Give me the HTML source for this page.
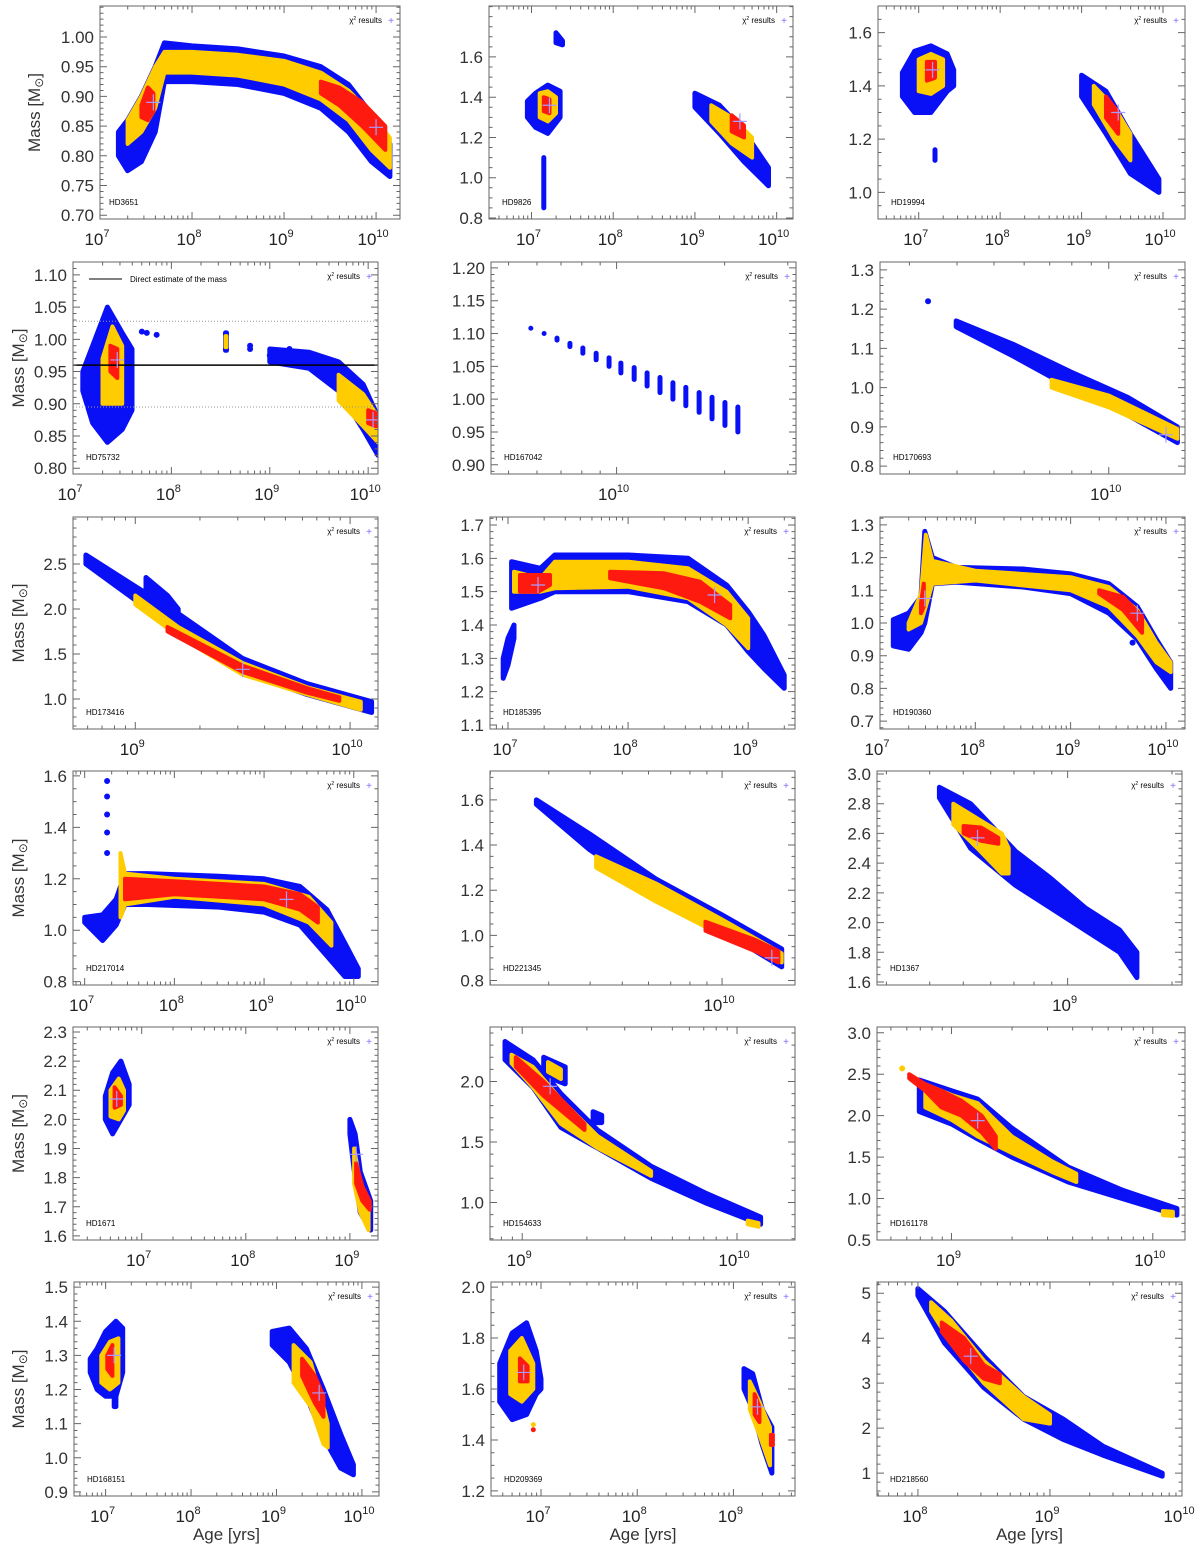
<!DOCTYPE html>
<html><head><meta charset="utf-8"><title>Mass vs Age</title>
<style>
html,body{margin:0;padding:0;background:#fff;}
svg{display:block;font-family:"Liberation Sans",sans-serif;}
</style></head>
<body>
<svg id="fig" width="1200" height="1550" viewBox="0 0 1200 1550" xmlns="http://www.w3.org/2000/svg"></svg>
<script>
// ===== DATA: tracks are [logAge, massLow, massHigh]; dots [logAge, mass]; crosses [logAge, mass] =====
const hd3651_blue=[[[7.2,0.80,0.84],[7.3,0.775,0.86],[7.45,0.79,0.90],[7.6,0.84,0.95],[7.7,0.925,0.99],[8.0,0.925,0.985],[8.5,0.92,0.98],[9.0,0.905,0.968],[9.4,0.88,0.95],[9.7,0.84,0.92],[9.95,0.79,0.87],[10.15,0.765,0.82]]];
const hd3651_yellow=[[[7.3,0.82,0.86],[7.45,0.84,0.90],[7.6,0.88,0.95],[7.7,0.94,0.975],[8.0,0.94,0.975],[8.5,0.935,0.97],[9.0,0.92,0.96],[9.4,0.895,0.94],[9.7,0.86,0.91],[9.95,0.81,0.87],[10.15,0.78,0.83]]];
const hd3651_red=[[[7.45,0.865,0.885],[7.52,0.86,0.915],[7.58,0.875,0.905]],[[9.4,0.905,0.925],[9.6,0.885,0.915],[9.85,0.85,0.89],[10.1,0.81,0.85]]];
const hd3651_cross=[[7.58,0.89],[10.0,0.848]];

const hd9826_blue=[[[6.95,1.3,1.38],[7.05,1.25,1.42],[7.2,1.22,1.46],[7.35,1.3,1.43]],[[7.15,0.85,0.85],[7.15,1.1,1.1]],[[7.3,1.67,1.72],[7.38,1.66,1.68]],[[9.0,1.35,1.42],[9.3,1.22,1.36],[9.6,1.08,1.23],[9.9,0.96,1.05]]];
const hd9826_yellow=[[[7.1,1.3,1.42],[7.2,1.28,1.43],[7.3,1.32,1.40]],[[9.2,1.28,1.36],[9.45,1.17,1.30],[9.7,1.10,1.20]]];
const hd9826_red=[[[7.15,1.33,1.4],[7.22,1.32,1.39]],[[9.45,1.23,1.31],[9.6,1.2,1.26]]];
const hd9826_cross=[[7.22,1.36],[9.55,1.28]];

const hd19994_blue=[[[6.8,1.36,1.45],[6.95,1.30,1.53],[7.15,1.30,1.55],[7.35,1.38,1.52],[7.43,1.40,1.46]],[[7.2,1.12,1.16],[7.2,1.14,1.14]],[[9.0,1.36,1.44],[9.3,1.22,1.38],[9.6,1.07,1.22],[9.95,1.0,1.05]]];
const hd19994_yellow=[[[7.0,1.38,1.50],[7.15,1.37,1.52],[7.3,1.40,1.50]],[[9.15,1.33,1.4],[9.4,1.2,1.32],[9.6,1.12,1.22]]];
const hd19994_red=[[[7.1,1.42,1.49],[7.2,1.43,1.49]],[[9.3,1.28,1.36],[9.45,1.22,1.30]]];
const hd19994_cross=[[7.17,1.46],[9.45,1.3]];

const hd75732_blue=[[[7.1,0.92,0.95],[7.2,0.87,0.99],[7.35,0.84,1.05],[7.5,0.86,1.01],[7.6,0.89,0.985]],[[8.55,0.983,1.01],[8.56,0.983,1.01]],[[9.0,0.965,0.985],[9.4,0.955,0.98],[9.7,0.92,0.965],[9.95,0.86,0.93],[10.1,0.82,0.88]]];
const hd75732_yellow=[[[7.3,0.9,0.97],[7.4,0.9,1.02],[7.5,0.9,0.99]],[[8.55,0.988,1.005],[8.56,0.988,1.005]],[[9.7,0.905,0.945],[9.95,0.865,0.915],[10.1,0.84,0.88]]];
const hd75732_red=[[[7.38,0.95,0.99],[7.45,0.94,0.985]],[[10.0,0.87,0.89],[10.08,0.865,0.885]]];
const hd75732_dots=[[7.7,1.012],[7.75,1.01],[7.85,1.007],[8.8,0.99],[8.8,0.985],[9.0,0.975],[9.2,0.985]];
const hd75732_cross=[[7.45,0.968],[10.05,0.875]];
const hd75732_direct=[0.96,1.028,0.895];

const hd167042_ages=[9.761,9.798,9.834,9.870,9.906,9.943,9.979,10.012,10.049,10.085,10.121,10.157,10.193,10.230,10.266,10.302,10.338];
const hd167042_top=[1.108,1.100,1.093,1.085,1.078,1.070,1.063,1.055,1.048,1.040,1.033,1.025,1.018,1.010,1.003,0.995,0.988];
const hd167042_bottom=[1.108,1.100,1.090,1.080,1.070,1.060,1.050,1.040,1.030,1.020,1.010,1.000,0.990,0.980,0.970,0.960,0.950];

const hd170693_blue=[[[9.6,1.155,1.17],[9.75,1.08,1.11],[9.9,1.0,1.04],[10.05,0.93,0.975],[10.18,0.86,0.9]]];
const hd170693_yellow=[[[9.85,1.0,1.02],[10.0,0.95,0.98],[10.18,0.87,0.895]]];
const hd170693_red=[];
const hd170693_dots=[[9.526,1.22]];
const hd170693_cross=[[10.15,0.88]];

const hd173416_blue=[[[8.77,2.5,2.6],[9.0,2.1,2.25],[9.2,1.7,1.95],[9.5,1.3,1.45],[9.8,1.05,1.17],[10.1,0.85,0.97]],[[9.05,2.1,2.35],[9.15,1.95,2.15],[9.2,1.9,2.0]]];
const hd173416_yellow=[[[9.0,2.05,2.15],[9.2,1.7,1.8],[9.5,1.27,1.40],[9.8,1.05,1.13],[10.05,0.88,0.97]]];
const hd173416_red=[[[9.15,1.75,1.8],[9.5,1.3,1.37],[9.8,1.07,1.12],[9.95,0.98,1.02]]];
const hd173416_cross=[[9.5,1.33]];

const hd185395_blue=[[[6.96,1.24,1.3],[7.0,1.28,1.36],[7.05,1.36,1.4]],[[7.03,1.45,1.59],[7.27,1.48,1.57],[7.39,1.5,1.61],[8.0,1.5,1.61],[8.5,1.47,1.6],[8.82,1.40,1.52],[9.0,1.32,1.44],[9.13,1.27,1.37],[9.3,1.21,1.25]]];
const hd185395_yellow=[[[7.05,1.5,1.56],[7.27,1.5,1.54],[7.39,1.51,1.59],[8.0,1.515,1.59],[8.5,1.48,1.57],[8.82,1.40,1.5],[9.0,1.33,1.42]]];
const hd185395_red=[[[7.1,1.5,1.55],[7.25,1.5,1.55],[7.35,1.52,1.55]],[[7.85,1.54,1.56],[8.3,1.51,1.555],[8.6,1.47,1.53],[8.85,1.42,1.46]]];
const hd185395_cross=[[7.25,1.52],[8.72,1.49]];

const hd190360_blue=[[[7.14,0.93,1.01],[7.3,0.92,1.03],[7.43,0.97,1.08],[7.47,1.0,1.28],[7.55,1.12,1.2],[7.8,1.125,1.17],[8.5,1.11,1.165],[9.0,1.09,1.15],[9.4,1.03,1.12],[9.7,0.95,1.05],[9.9,0.86,0.95],[10.05,0.8,0.88]]];
const hd190360_yellow=[[[7.3,0.98,1.0],[7.43,1.0,1.09],[7.48,1.05,1.27],[7.55,1.12,1.19],[8.0,1.13,1.16],[9.0,1.1,1.14],[9.4,1.05,1.11],[9.7,0.96,1.04],[9.9,0.88,0.94],[10.05,0.85,0.88]]];
const hd190360_red=[[[7.43,1.03,1.06],[7.46,1.05,1.12]],[[9.3,1.09,1.1],[9.55,1.04,1.08],[9.75,0.97,1.02]]];
const hd190360_dots=[[9.65,0.94]];
const hd190360_cross=[[7.47,1.075],[9.7,1.03]];

const hd217014_blue=[[[7.0,1.03,1.05],[7.2,0.96,1.06],[7.35,1.02,1.12],[7.45,1.1,1.22],[7.7,1.1,1.22],[8.5,1.09,1.21],[9.0,1.07,1.2],[9.4,1.02,1.17],[9.7,0.9,1.08],[9.9,0.82,0.95],[10.05,0.82,0.85]]];
const hd217014_yellow=[[[7.4,1.05,1.3],[7.45,1.1,1.22],[8.0,1.13,1.2],[9.0,1.1,1.18],[9.5,1.03,1.13],[9.75,0.94,1.03]]];
const hd217014_red=[[[7.45,1.12,1.2],[8.0,1.14,1.19],[9.0,1.12,1.17],[9.4,1.08,1.14],[9.6,1.03,1.09]]];
const hd217014_dots=[[7.25,1.3],[7.25,1.38],[7.25,1.45],[7.25,1.52],[7.25,1.58]];
const hd217014_cross=[[9.25,1.12]];

const hd221345_blue=[[[9.44,1.58,1.6],[9.6,1.38,1.45],[9.8,1.18,1.25],[10.0,1.02,1.09],[10.18,0.86,0.94]]];
const hd221345_yellow=[[[9.62,1.3,1.35],[9.8,1.15,1.23],[10.0,1.0,1.07],[10.18,0.88,0.92]]];
const hd221345_red=[[[9.95,1.02,1.06],[10.1,0.93,0.98],[10.17,0.88,0.93]]];
const hd221345_cross=[[10.15,0.9]];

const hd1367_blue=[[[8.63,2.84,2.91],[8.72,2.5,2.8],[8.85,2.25,2.48],[8.95,2.1,2.3],[9.05,1.95,2.1],[9.15,1.8,1.95],[9.2,1.63,1.8]]];
const hd1367_yellow=[[[8.67,2.66,2.8],[8.74,2.5,2.7],[8.81,2.33,2.6],[8.83,2.33,2.5]]];
const hd1367_red=[[[8.7,2.6,2.65],[8.75,2.55,2.64],[8.8,2.53,2.57]]];
const hd1367_cross=[[8.74,2.57]];

const hd1671_blue=[[[6.65,2.0,2.08],[6.72,1.95,2.16],[6.8,2.0,2.2],[6.88,2.05,2.12]],[[9.0,1.95,2.0],[9.05,1.8,1.95],[9.1,1.68,1.82],[9.2,1.62,1.72]]];
const hd1671_yellow=[[[6.7,2.01,2.1],[6.78,2.0,2.14],[6.83,2.03,2.1]],[[9.04,1.78,1.9],[9.1,1.68,1.78],[9.18,1.62,1.7]]];
const hd1671_red=[[[6.74,2.04,2.11],[6.8,2.05,2.08]],[[9.06,1.78,1.85],[9.12,1.72,1.77],[9.19,1.69,1.72]]];
const hd1671_cross=[[6.76,2.07],[9.06,1.88]];

const hd154633_blue=[[[8.92,2.18,2.33],[9.05,1.95,2.18],[9.18,1.62,1.9],[9.35,1.45,1.6],[9.6,1.2,1.3],[9.85,1.0,1.08],[10.11,0.82,0.88]],[[9.1,2.05,2.2],[9.2,1.98,2.12]],[[9.33,1.66,1.75],[9.37,1.66,1.72]]];
const hd154633_yellow=[[[8.95,2.15,2.22],[9.05,1.95,2.12],[9.18,1.65,1.85],[9.35,1.45,1.55],[9.6,1.22,1.26]],[[10.05,0.82,0.85],[10.1,0.8,0.83]],[[9.12,2.08,2.16],[9.18,2.02,2.1]]];
const hd154633_red=[[[8.97,2.12,2.2],[9.1,1.88,2.0],[9.29,1.6,1.65]]];
const hd154633_cross=[[9.13,1.96]];

const hd161178_blue=[[[8.84,2.05,2.43],[9.0,1.9,2.3],[9.13,1.72,2.2],[9.3,1.5,1.85],[9.58,1.2,1.38],[9.85,1.0,1.1],[10.12,0.8,0.88]]];
const hd161178_yellow=[[[8.87,2.1,2.38],[9.0,1.95,2.25],[9.13,1.75,2.15],[9.3,1.55,1.75],[9.5,1.32,1.45],[9.62,1.2,1.3]],[[10.05,0.8,0.85],[10.1,0.79,0.84]]];
const hd161178_red=[[[8.79,2.45,2.5],[8.87,2.3,2.38],[8.95,2.1,2.3],[9.05,2.0,2.18],[9.15,1.8,2.0],[9.22,1.6,1.75]]];
const hd161178_dots=[[8.755,2.57]];
const hd161178_cross=[[9.13,1.94]];

const hd168151_blue=[[[6.82,1.25,1.29],[6.9,1.2,1.32],[7.0,1.18,1.37],[7.12,1.18,1.4],[7.2,1.25,1.38]],[[7.1,1.15,1.2],[7.12,1.15,1.2]],[[8.95,1.33,1.37],[9.15,1.28,1.38],[9.35,1.18,1.32],[9.55,1.06,1.2],[9.75,0.97,1.07],[9.9,0.95,0.98]]];
const hd168151_yellow=[[[6.95,1.22,1.3],[7.05,1.2,1.34],[7.15,1.22,1.35]],[[9.2,1.22,1.33],[9.4,1.15,1.28],[9.55,1.04,1.15],[9.6,1.03,1.1]]];
const hd168151_red=[[[7.02,1.26,1.3],[7.08,1.24,1.33]],[[9.3,1.24,1.29],[9.45,1.16,1.24],[9.55,1.12,1.18]]];
const hd168151_cross=[[7.1,1.3],[9.5,1.19]];

const hd209369_blue=[[[6.57,1.55,1.7],[6.7,1.48,1.82],[6.85,1.5,1.86],[6.95,1.58,1.75],[7.0,1.6,1.64]],[[9.11,1.6,1.68],[9.2,1.52,1.66],[9.3,1.38,1.52],[9.4,1.27,1.45]]];
const hd209369_yellow=[[[6.68,1.58,1.75],[6.8,1.55,1.8],[6.92,1.6,1.7]],[[9.17,1.52,1.63],[9.27,1.42,1.55],[9.38,1.3,1.45]]];
const hd209369_red=[[[6.78,1.63,1.72],[6.86,1.63,1.69]],[[9.22,1.5,1.58],[9.27,1.47,1.53]],[[9.39,1.38,1.42],[9.41,1.38,1.42]]];
const hd209369_cross=[[6.82,1.665],[9.25,1.53]];

const hd218560_blue=[[[8.0,4.95,5.1],[8.2,3.9,4.6],[8.5,2.9,3.6],[8.8,2.2,2.7],[9.1,1.75,2.2],[9.4,1.4,1.6],[9.85,0.93,1.0]]];
const hd218560_yellow=[[[8.1,4.6,4.8],[8.25,3.9,4.4],[8.5,3.0,3.5],[8.8,2.2,2.7],[9.0,2.1,2.3]]];
const hd218560_red=[[[8.18,4.15,4.35],[8.35,3.5,4.0],[8.5,3.1,3.4],[8.62,3.0,3.2]]];
const hd218560_cross=[[8.4,3.6]];

// tick label arrays
const yt1=["0.70","0.75","0.80","0.85","0.90","0.95","1.00"];
const yt2=["0.8","1.0","1.2","1.4","1.6"];
const yt3=["1.0","1.2","1.4","1.6"];
const yt4=["0.80","0.85","0.90","0.95","1.00","1.05","1.10"];
const yt5=["0.90","0.95","1.00","1.05","1.10","1.15","1.20"];
const yt6=["0.8","0.9","1.0","1.1","1.2","1.3"];
const yt7=["1.0","1.5","2.0","2.5"];
const yt8=["1.1","1.2","1.3","1.4","1.5","1.6","1.7"];
const yt9=["0.7","0.8","0.9","1.0","1.1","1.2","1.3"];
const yt10=["0.8","1.0","1.2","1.4","1.6"];
const yt11=["0.8","1.0","1.2","1.4","1.6"];
const yt12=["1.6","1.8","2.0","2.2","2.4","2.6","2.8","3.0"];
const yt13=["1.6","1.7","1.8","1.9","2.0","2.1","2.2","2.3"];
const yt14=["1.0","1.5","2.0"];
const yt15=["0.5","1.0","1.5","2.0","2.5","3.0"];
const yt16=["0.9","1.0","1.1","1.2","1.3","1.4","1.5"];
const yt17=["1.2","1.4","1.6","1.8","2.0"];
const yt18=["1","2","3","4","5"];

// ===== LAYOUT (not data) =====
const ROWS=[[6,219],[262,474],[517,729],[771,985],[1027,1240],[1282,1496]];
const panels=[
 {id:"hd3651",name:"HD3651",box:[100,400],row:0,xr:[7,10.26],yr:[0.6936,1.0522],yt:yt1,yminor:0.01,L:[hd3651_blue,hd3651_yellow,hd3651_red],cross:hd3651_cross,title:true},
 {id:"hd9826",name:"HD9826",box:[489,793],row:0,xr:[6.48,10.2],yr:[0.795,1.853],yt:yt2,yminor:0.05,L:[hd9826_blue,hd9826_yellow,hd9826_red],cross:hd9826_cross},
 {id:"hd19994",name:"HD19994",box:[878,1185],row:0,xr:[6.5,10.27],yr:[0.90,1.70],yt:yt3,yminor:0.05,L:[hd19994_blue,hd19994_yellow,hd19994_red],cross:hd19994_cross},
 {id:"hd75732",name:"HD75732",box:[73,378],row:1,xr:[7,10.1],yr:[0.791,1.120],yt:yt4,yminor:0.01,L:[hd75732_blue,hd75732_yellow,hd75732_red],dots:hd75732_dots,cross:hd75732_cross,title:true,direct:true},
 {id:"hd167042",name:"HD167042",box:[491,796],row:1,xr:[9.65,10.5],yr:[0.886,1.209],yt:yt5,yminor:0.01,L:[[],[],[]],cols:true},
 {id:"hd170693",name:"HD170693",box:[880,1185],row:1,xr:[9.4,10.2],yr:[0.78,1.32],yt:yt6,yminor:0.02,L:[hd170693_blue,hd170693_yellow,hd170693_red],dots:hd170693_dots,cross:hd170693_cross},
 {id:"hd173416",name:"HD173416",box:[73,378],row:2,xr:[8.71,10.13],yr:[0.667,3.022],yt:yt7,yminor:0.1,L:[hd173416_blue,hd173416_yellow,hd173416_red],cross:hd173416_cross,title:true},
 {id:"hd185395",name:"HD185395",box:[490,795],row:2,xr:[6.85,9.39],yr:[1.088,1.724],yt:yt8,yminor:0.02,L:[hd185395_blue,hd185395_yellow,hd185395_red],cross:hd185395_cross},
 {id:"hd190360",name:"HD190360",box:[880,1185],row:2,xr:[7.0,10.2],yr:[0.676,1.324],yt:yt9,yminor:0.02,L:[hd190360_blue,hd190360_yellow,hd190360_red],dots:hd190360_dots,cross:hd190360_cross},
 {id:"hd217014",name:"HD217014",box:[73,378],row:3,xr:[6.87,10.27],yr:[0.787,1.619],yt:yt10,yminor:0.05,L:[hd217014_blue,hd217014_yellow,hd217014_red],dots:hd217014_dots,cross:hd217014_cross,title:true},
 {id:"hd221345",name:"HD221345",box:[490,795],row:3,xr:[9.3,10.22],yr:[0.78,1.728],yt:yt11,yminor:0.05,L:[hd221345_blue,hd221345_yellow,hd221345_red],cross:hd221345_cross},
 {id:"hd1367",name:"HD1367",box:[877,1182],row:3,xr:[8.45,9.33],yr:[1.58,3.02],yt:yt12,yminor:0.05,L:[hd1367_blue,hd1367_yellow,hd1367_red],cross:hd1367_cross},
 {id:"hd1671",name:"HD1671",box:[73,378],row:4,xr:[6.34,9.27],yr:[1.586,2.317],yt:yt13,yminor:0.02,L:[hd1671_blue,hd1671_yellow,hd1671_red],cross:hd1671_cross,title:true},
 {id:"hd154633",name:"HD154633",box:[490,795],row:4,xr:[8.85,10.27],yr:[0.69,2.45],yt:yt14,yminor:0.1,L:[hd154633_blue,hd154633_yellow,hd154633_red],cross:hd154633_cross},
 {id:"hd161178",name:"HD161178",box:[877,1185],row:4,xr:[8.63,10.16],yr:[0.5,3.07],yt:yt15,yminor:0.1,L:[hd161178_blue,hd161178_yellow,hd161178_red],dots:hd161178_dots,dotColor:"#ffcc00",cross:hd161178_cross},
 {id:"hd168151",name:"HD168151",box:[74,379],row:5,xr:[6.63,10.2],yr:[0.888,1.515],yt:yt16,yminor:0.02,L:[hd168151_blue,hd168151_yellow,hd168151_red],cross:hd168151_cross,title:true,agetitle:true},
 {id:"hd209369",name:"HD209369",box:[491,795],row:5,xr:[6.48,9.64],yr:[1.18,2.02],yt:yt17,yminor:0.05,L:[hd209369_blue,hd209369_yellow,hd209369_red],cross:hd209369_cross,agetitle:true,extra:true},
 {id:"hd218560",name:"HD218560",box:[877,1182],row:5,xr:[7.69,10.0],yr:[0.49,5.25],yt:yt18,yminor:0.2,L:[hd218560_blue,hd218560_yellow,hd218560_red],cross:hd218560_cross,agetitle:true}
];
const COLORS=["#0a10f5","#ffcc00","#ff1a10"];
const NS="http://www.w3.org/2000/svg";
const svg=document.getElementById("fig");
function mk(tag,attrs,parent){const e=document.createElementNS(NS,tag);for(const k in attrs)e.setAttribute(k,attrs[k]);(parent||svg).appendChild(e);return e;}

panels.forEach((p,pi)=>{
  const [x0,x1]=p.box,[y0,y1]=ROWS[p.row];
  const g=mk("g",{});
  
  
  const X=a=>x0+(a-p.xr[0])/(p.xr[1]-p.xr[0])*(x1-x0);
  const Y=m=>y1-(m-p.yr[0])/(p.yr[1]-p.yr[0])*(y1-y0);
  const clipId="clip"+pi;
  const cp=mk("clipPath",{id:clipId},g);mk("rect",{x:x0,y:y0,width:x1-x0,height:y1-y0},cp);
  const data=mk("g",{"clip-path":"url(#"+clipId+")"},g);
  
  
  // bands
  const lname=["blue-region","yellow-region","red-region"];
  p.L.forEach((tracks,li)=>{
    tracks.forEach(tr=>{
      const up=tr.map(t=>X(t[0]).toFixed(1)+","+Y(t[2]).toFixed(1));
      const lo=tr.slice().reverse().map(t=>X(t[0]).toFixed(1)+","+Y(t[1]).toFixed(1));
      const poly=mk("polygon",{points:up.concat(lo).join(" "),fill:COLORS[li],stroke:COLORS[li],"stroke-width":li==0?5:4,"stroke-linejoin":"round"},data);
      
      
    });
  });
  if(p.cols){
    hd167042_ages.forEach((a,i)=>{
      const l=mk("line",{x1:X(a),x2:X(a),y1:Y(hd167042_top[i]),y2:Y(hd167042_bottom[i]),stroke:COLORS[0],"stroke-width":5,"stroke-linecap":"round"},data);
      
      
    });
  }
  (p.dots||[]).forEach(d=>{
    const c=mk("circle",{cx:X(d[0]),cy:Y(d[1]),r:3,fill:p.dotColor||COLORS[0]},data);
    
    
  });
  if(p.extra){
    const c1=mk("circle",{cx:X(6.92),cy:Y(1.46),r:2.5,fill:COLORS[1]},data);
    
    
    const c2=mk("circle",{cx:X(6.92),cy:Y(1.44),r:2.5,fill:COLORS[2]},data);
    
    
  }
  if(p.direct){
    hd75732_direct.forEach((m,i)=>{
      const l=mk("line",{x1:x0,x2:x1,y1:Y(m),y2:Y(m),stroke:i==0?"#000":"#999","stroke-width":i==0?1.5:1,"stroke-dasharray":i==0?"":"1,2"},data);
      
      
    });
    const ll=mk("line",{x1:x0+16,x2:x0+49,y1:y0+17,y2:y0+17,stroke:"#000","stroke-width":1},g);
    
    
    const lt=mk("text",{x:x0+57,y:y0+20,"font-size":8,fill:"#000"},g);lt.textContent="Direct estimate of the mass";
    
    
  }
  (p.cross||[]).forEach(c=>{
    const cx=X(c[0]),cy=Y(c[1]);
    const cr=mk("path",{d:`M${cx-7},${cy}H${cx+7}M${cx},${cy-8}V${cy+8}`,stroke:"#a89cff","stroke-width":1.2,fill:"none"},data);
    
    
  });
  // frame
  const fr=mk("rect",{x:x0,y:y0,width:x1-x0,height:y1-y0,fill:"none",stroke:"#666","stroke-width":1},g);
  
  
  // x ticks
  let td="";
  for(let k=Math.floor(p.xr[0]);k<=Math.ceil(p.xr[1]);k++){
    for(let m=1;m<=9;m++){
      const a=k+Math.log10(m);
      if(a<p.xr[0]-1e-6||a>p.xr[1]+1e-6)continue;
      const x=X(a),len=m==1?7:3.5;
      td+=`M${x},${y1}V${y1-len}M${x},${y0}V${y0+len}`;
      if(m==1){
        const t=mk("text",{x:x-3,y:y1+26,"text-anchor":"middle","font-size":17,fill:"#222"},g);
        t.textContent="10";
        const s=mk("tspan",{dy:-8,"font-size":11},t);s.textContent=String(k);
        
        
      }
    }
  }
  // y ticks
  const yv=p.yt.map(Number);
  yv.forEach((v,i)=>{
    const y=Y(v);
    td+=`M${x0},${y}H${x0+7}M${x1},${y}H${x1-7}`;
    const t=mk("text",{x:x0-6,y:y+6,"text-anchor":"end","font-size":17,fill:"#333"},g);
    t.textContent=p.yt[i];
    
    
  });
  for(let v=Math.ceil(p.yr[0]/p.yminor)*p.yminor;v<p.yr[1];v+=p.yminor){
    const y=Y(v);td+=`M${x0},${y}H${x0+3.5}M${x1},${y}H${x1-3.5}`;
  }
  const tk=mk("path",{d:td,stroke:"#666","stroke-width":1,fill:"none"},g);
  
  
  // star name
  const nm=mk("text",{x:x0+(p.id=="hd3651"?9:13),y:y1-14,"font-size":8,fill:"#000"},g);
  nm.textContent=p.name;
  
  
  // legend
  const lg=mk("text",{x:x1-18,y:y0+17,"font-size":8,"text-anchor":"end",fill:"#000"},g);
  lg.textContent="χ";
  const sp=mk("tspan",{dy:-3,"font-size":5},lg);sp.textContent="2";
  const sp2=mk("tspan",{dy:3},lg);sp2.textContent=" results";
  
  
  const lp=mk("text",{x:x1-9,y:y0+18,"font-size":10,"text-anchor":"middle",fill:"#7a6cff"},g);
  lp.textContent="+";
  
  
  if(p.title){
    const cx=p.id=="hd3651"?40:24,cy=(y0+y1)/2;
    const tt=mk("text",{x:cx,y:cy,"font-size":17,"text-anchor":"middle",fill:"#333",transform:`rotate(-90 ${cx} ${cy})`},g);
    tt.textContent="Mass [M";
    const sb=mk("tspan",{dy:3,"font-size":12},tt);sb.textContent="⊙";
    const s3=mk("tspan",{dy:-3},tt);s3.textContent="]";
    
    
  }
  if(p.agetitle){
    const at=mk("text",{x:(x0+x1)/2,y:1540,"font-size":17,"text-anchor":"middle",fill:"#333"},g);
    at.textContent="Age [yrs]";
    
    
  }
});
</script>
</body></html>
